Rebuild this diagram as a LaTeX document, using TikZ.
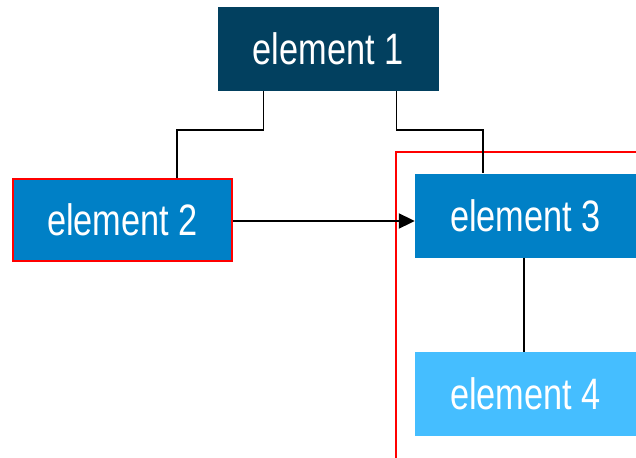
\documentclass[tikz,border=0pt]{standalone}
\usepackage{fontspec}
\setmainfont{Liberation Sans}[FakeStretch=0.78]
\usetikzlibrary{arrows.meta}
\definecolor{navy}{HTML}{02405F}
\definecolor{midblue}{HTML}{0080C6}
\definecolor{lightblue}{HTML}{45BEFF}
\definecolor{redline}{HTML}{FF0000}
\tikzset{
  elem/.style={rectangle, minimum width=221pt, minimum height=84pt, inner sep=0pt,
    text=white, font=\fontsize{44}{48}\selectfont},
  conn/.style={draw=black, line width=1.5pt},
}
\begin{document}
\begin{tikzpicture}[x=1pt,y=-1pt]
\useasboundingbox (0,0) rectangle (636,457);
\clip (0,0) rectangle (636,457);
\fill[white] (0,0) rectangle (636,457);
\node[elem, fill=navy] (e1) at (328,49) {element 1};
\node[elem, fill=midblue, draw=redline, line width=2.2pt, minimum width=219pt, minimum height=82pt] (e2) at (122.5,220) {element 2};
\node[elem, fill=midblue] (e3) at (525.5,215.5) {element 3};
\node[elem, fill=lightblue] (e4) at (525.5,394) {element 4};
\draw[redline, line width=2.5pt] (396,152) rectangle (700,500);
\draw[conn] ([xshift=46pt]e1.south west) -- ++(0,39) -| ([xshift=54.5pt]e2.north);
\draw[conn] ([xshift=-42pt]e1.south east) -- ++(0,39) -| ([xshift=-42.5pt]e3.north);
\draw[conn] ([xshift=-1.5pt]e3.south) -- ([xshift=-1.5pt]e4.north);
\draw[line width=2pt, -{Triangle[length=16pt,width=15pt]}] ([yshift=-1pt]e2.east) -- ([yshift=-1pt]e2.east -| e3.west);
\end{tikzpicture}
\end{document}
